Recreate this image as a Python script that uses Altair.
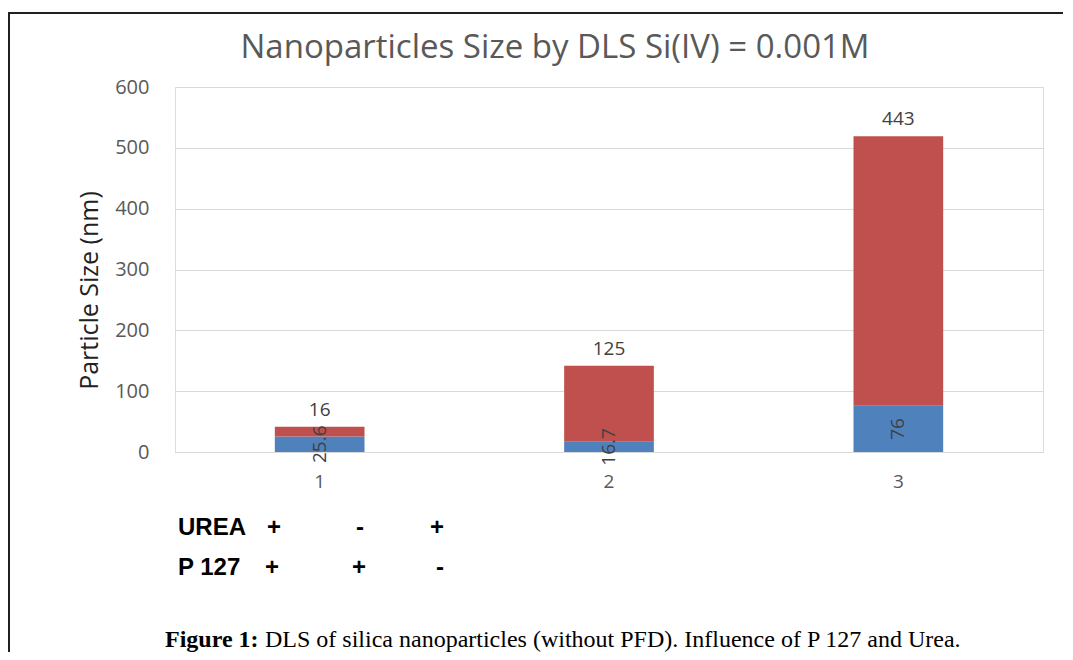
import altair as alt
import pandas as pd

# ---- data ----
categories = ["1", "2", "3"]
blue_values = [25.6, 16.7, 76]
red_values = [16, 125, 443]
urea_signs = ["+", "-", "+"]
p127_signs = ["+", "+", "-"]
title_text = "Nanoparticles Size by DLS Si(IV) = 0.001M"
y_title = "Particle Size (nm)"
caption_bold = "Figure 1:"
caption_rest = "DLS of silica nanoparticles (without PFD). Influence of P 127 and Urea."

df = pd.DataFrame({"cat": categories, "blue": blue_values, "red": red_values})

# plot-area origin on page (px)
OX, OY = 175, 87
W, H = 868, 365
def px(x):
    return x - OX
def py(y):
    return y - OY

BLUE = "#4f81bd"
RED = "#c0504d"
GRID = "#d9d9d9"
TXT = "#595959"

xenc = alt.X("cat:N", sort=categories,
             scale=alt.Scale(paddingInner=0.69, paddingOuter=0.345),
             axis=alt.Axis(title=None, labelAngle=0, labelFontSize=19, labelFont="Open Sans",
                           labelColor=TXT, ticks=False, domainColor=GRID, labelPadding=20))
yscale = alt.Scale(domain=[0, 600])

base = alt.Chart(df).transform_calculate(
    total="datum.blue + datum.red", bmid="datum.blue / 2")

blue_bar = base.mark_bar(color=BLUE).encode(
    x=xenc,
    y=alt.Y("blue:Q", scale=yscale,
            axis=alt.Axis(values=[0, 100, 200, 300, 400, 500, 600], title=y_title,
                          titleFont="Open Sans", titleFontSize=25, titleFontWeight="normal",
                          titleColor="#222222", titleX=px(89), titleY=py(290),
                          titleAngle=270, titleAlign="center", titleBaseline="middle",
                          labelFont="Open Sans", labelFontSize=20, labelColor=TXT,
                          labelPadding=26, ticks=False, domain=False,
                          gridColor=GRID, grid=True)),
)
red_bar = base.mark_bar(color=RED).encode(
    x=alt.X("cat:N", sort=categories), y=alt.Y("blue:Q"), y2="total:Q")

red_lab = base.mark_text(fontSize=19, font="Open Sans", color="#404040", dy=-17,
                         baseline="middle").encode(
    x=alt.X("cat:N", sort=categories), y="total:Q", text=alt.Text("red:Q"))
blue_lab = base.mark_text(fontSize=19, font="Open Sans", color="#404040", angle=270,
                          baseline="middle").encode(
    x=alt.X("cat:N", sort=categories), y="bmid:Q", text=alt.Text("blue:Q"))

anno = []
def txt(s, x, y, size, font="Open Sans", weight="normal", color="#000000", align="center"):
    anno.append(alt.Chart(df).mark_text(text=s, fontSize=size, font=font, fontWeight=weight,
                                        color=color, align=align, baseline="middle").encode(
        x=alt.value(px(x)), y=alt.value(py(y))).transform_filter("datum.cat == '1'"))

txt(title_text, 555, 48, 33, color=TXT)
txt("UREA", 178, 528, 24, font="Liberation Sans", weight="bold", align="left")
txt("P 127", 178, 568, 24, font="Liberation Sans", weight="bold", align="left")
urea_x = [274, 360, 437]
p_x = [272, 359, 440]
for s, x in zip(urea_signs, urea_x):
    txt(s, x, 528, 24, font="Liberation Sans", weight="bold")
for s, x in zip(p127_signs, p_x):
    txt(s, x, 568, 24, font="Liberation Sans", weight="bold")
txt(caption_bold, 165, 640, 24, font="Liberation Serif", weight="bold", align="left")
txt(caption_rest, 265, 640, 24, font="Liberation Serif", align="left")

border_top = alt.Chart(df).mark_rule(color="#231f20", strokeWidth=2).encode(
    x=alt.value(px(8)), x2=alt.value(px(1073)), y=alt.value(py(13))).transform_filter("datum.cat == '1'")
border_left = alt.Chart(df).mark_rule(color="#231f20", strokeWidth=2).encode(
    x=alt.value(px(9)), y=alt.value(py(12)), y2=alt.value(py(660))).transform_filter("datum.cat == '1'")

chart = alt.layer(blue_bar, red_bar, red_lab, blue_lab, border_top, border_left, *anno).properties(
    width=W, height=H,
    autosize=alt.AutoSizeParams(type="none"),
    padding={"left": OX - 8, "top": OY - 8, "right": 20, "bottom": 200},
).configure_view(stroke=None).configure(background="white")

chart.save("out.html", embed_options={"renderer": "svg", "actions": False})
